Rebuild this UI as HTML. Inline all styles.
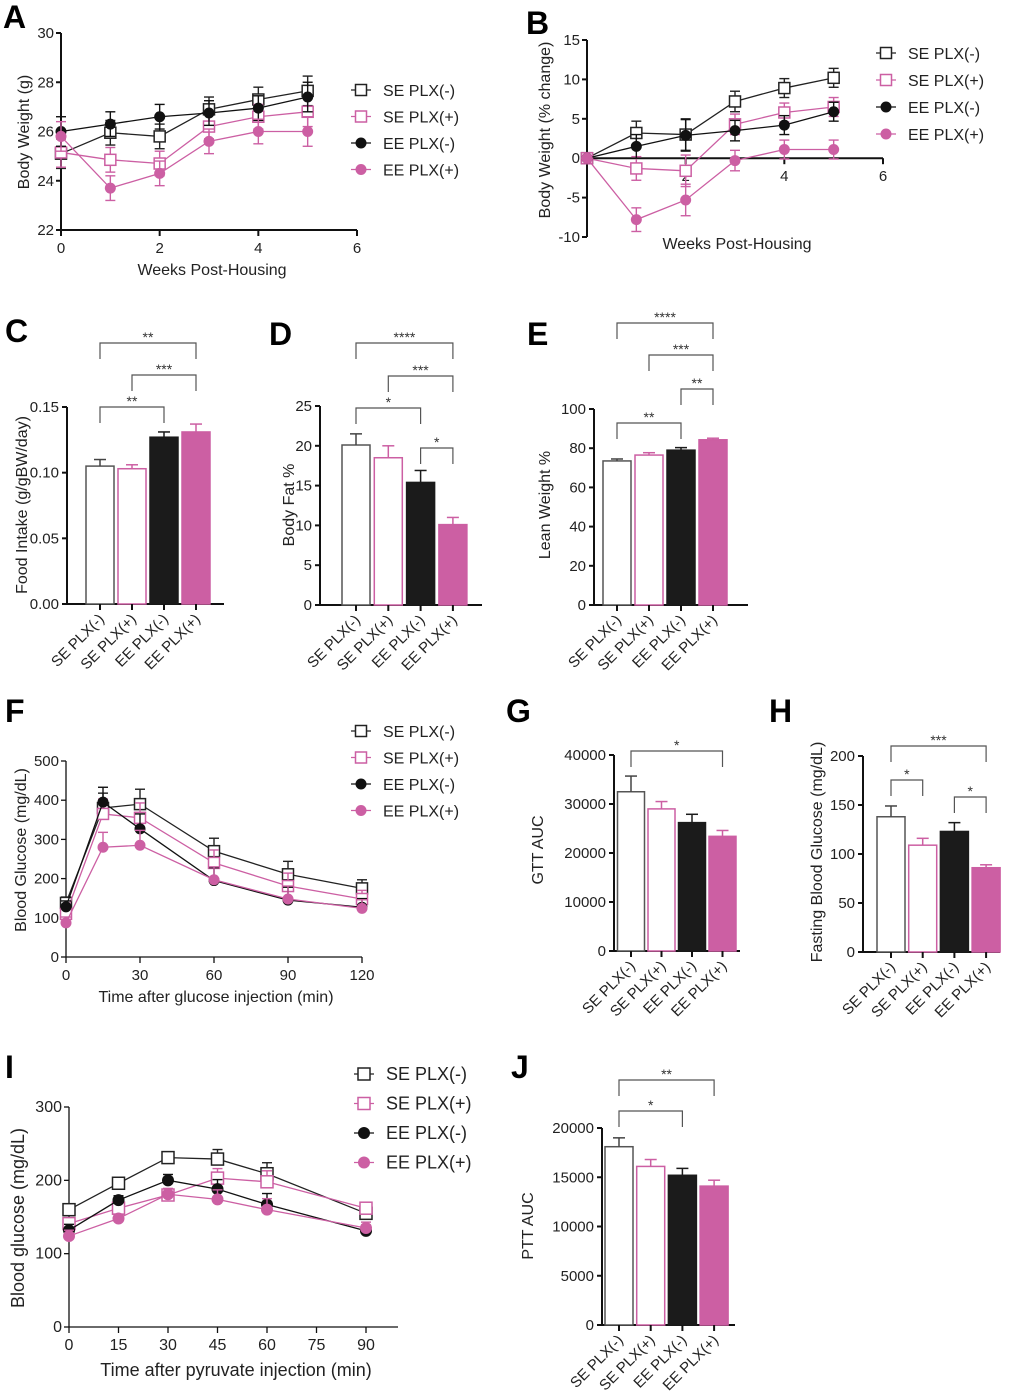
<!DOCTYPE html>
<html><head><meta charset="utf-8"><style>
html,body{margin:0;padding:0;background:#fff}
svg{display:block;font-family:"Liberation Sans",Arial,sans-serif}
</style></head><body>
<svg id="fig" width="1020" height="1397" viewBox="0 0 1020 1397" xmlns="http://www.w3.org/2000/svg"></svg>
<script>
// ---------- DATA ----------
const seriesNames = ["SE PLX(-)","SE PLX(+)","EE PLX(-)","EE PLX(+)"];
// Panel A
const aWeeks = [0,1,2,3,4,5];
const aSEm = [25.1,25.95,25.8,26.9,27.3,27.65];
const aSEp = [25.15,24.85,24.7,26.2,26.6,26.8];
const aEEm = [26.0,26.3,26.6,26.75,26.95,27.4];
const aEEp = [25.8,23.7,24.3,25.6,26.0,26.0];
const aErr = [0.6,0.5,0.5,0.5,0.5,0.6];
// Panel B
const bSEm = [0,3.2,3.0,7.2,8.9,10.2];
const bSEp = [0,-1.3,-1.6,4.3,5.8,6.5];
const bEEm = [0,1.5,2.9,3.5,4.2,5.9];
const bEEp = [0,-7.8,-5.3,-0.3,1.1,1.1];
const bErr = [0,1.5,2.0,1.3,1.2,1.2];
// Panel F
const fTimes = [0,15,30,60,90,120];
const fSEm = [138,380,390,270,211,175];
const fSEp = [110,365,355,240,181,148];
const fEEm = [128,395,327,195,145,127];
const fEEp = [87,280,285,197,148,124];
const fErr = [15,38,38,33,33,22];
// Panel I
const iTimes = [0,15,30,45,60,90];
const iSEm = [160,196,231,229,209,155];
const iSEp = [141,162,180,203,198,162];
const iEEm = [132,173,200,188,167,131];
const iEEp = [124,148,181,174,160,135];
const iErr = [8,6,8,13,15,8];
// Bar panels
const cVals = [0.105,0.103,0.127,0.131];
const cErr = [0.005,0.003,0.004,0.006];
const dVals = [20.1,18.5,15.4,10.1];
const dErr = [1.4,1.5,1.5,0.9];
const eVals = [73.5,76.5,79.0,84.3];
const eErr = [1.0,1.2,1.3,0.8];
const gVals = [32500,29000,26200,23400];
const gErr = [3200,1500,1700,1200];
const hVals = [138,109,123,86];
const hErr = [11,7,9,3];
const jVals = [18100,16100,15200,14100];
const jErr = [900,700,700,600];

// ---------- HELPERS ----------
const NS="http://www.w3.org/2000/svg";
const svg=document.getElementById('fig');
const PINK="#cc5fa3";
const colors=["#222",PINK,"#111",PINK];
function mk(tag,attrs,parent){const e=document.createElementNS(NS,tag);for(const k in attrs)e.setAttribute(k,attrs[k]);(parent||svg).appendChild(e);return e;}
function txt(s,x,y,size,anchor,parent,extra){const t=mk('text',Object.assign({x:x,y:y,'font-size':size,'text-anchor':anchor||'start',fill:'#222'},extra||{}),parent);t.textContent=s;return t;}
function group(name){const g=mk('g',{});return g;}
function marker(g,i,x,y,r){
  if(i<2){const m=mk('rect',{x:x-r,y:y-r,width:2*r,height:2*r,fill:'#fff',stroke:colors[i],'stroke-width':1.5},g);}
  else{const m=mk('circle',{cx:x,cy:y,r:r,fill:colors[i]},g);}
}
function panelLetter(l,x,y){const t=txt(l,x,y,32,'start',svg,{'font-weight':'bold',fill:'#000'});}

function lineChart(c){
  const g=group(c.name);
  const X=v=>c.px0+(v-c.xmin)/(c.xmax-c.xmin)*(c.px1-c.px0);
  const Y=v=>c.py0-(v-c.ymin)/(c.ymax-c.ymin)*(c.py0-c.py1);
  const xAxisY=c.xAxisAt!==undefined?Y(c.xAxisAt):c.py0;
  const sw=c.axisW||2;
  const ya=mk('line',{x1:X(c.xmin),y1:c.py0,x2:X(c.xmin),y2:c.py1,stroke:'#111','stroke-width':sw},g);
  
  c.yticks.forEach(v=>{mk('line',{x1:X(c.xmin)-5,y1:Y(v),x2:X(c.xmin),y2:Y(v),stroke:'#111','stroke-width':sw},g);
    const t=txt(String(v),X(c.xmin)-7,Y(v)+5,c.fs,'end',g);});
  const xa=mk('line',{x1:X(c.xmin),y1:xAxisY,x2:c.axisEnd||c.px1,y2:xAxisY,stroke:'#111','stroke-width':sw},g);
  
  c.xticks.forEach((v,k)=>{mk('line',{x1:X(v),y1:xAxisY,x2:X(v),y2:xAxisY+6,stroke:'#111','stroke-width':sw},g);
    const lab=c.xtickLabels?c.xtickLabels[k]:String(v);
    if(lab!==''){const t=txt(lab,X(v),xAxisY+23,c.fs,'middle',g);}});
  const xt=txt(c.xtitle,c.xtitleX,c.xtitleY,c.tfs,'middle',g);
  const yt=txt(c.ytitle,0,0,c.tfs,'middle',g,{transform:`translate(${c.ytitleX},${c.ytitleY}) rotate(-90)`});
  c.series.forEach((s,i)=>{
    const sg=mk('g',{},g);
    s.forEach((v,k)=>{const e=c.err[k];if(!e)return;const x=X(c.x[k]);
      const lo=c.both?Y(v-e):Y(v);
      mk('line',{x1:x,y1:lo,x2:x,y2:Y(v+e),stroke:colors[i],'stroke-width':1.4},sg);
      mk('line',{x1:x-5,y1:Y(v+e),x2:x+5,y2:Y(v+e),stroke:colors[i],'stroke-width':1.4},sg);
      if(c.both)mk('line',{x1:x-5,y1:Y(v-e),x2:x+5,y2:Y(v-e),stroke:colors[i],'stroke-width':1.4},sg);});
    const pts=s.map((v,k)=>X(c.x[k])+','+Y(v)).join(' ');
    mk('polyline',{points:pts,fill:'none',stroke:colors[i],'stroke-width':1.3},sg);
    s.forEach((v,k)=>marker(sg,i,X(c.x[k]),Y(v),c.mr));
  });
  seriesNames.forEach((n,i)=>{const lg=mk('g',{},g);
    const y=c.legY+i*c.legDy;
    mk('line',{x1:c.legX-10,y1:y,x2:c.legX+10,y2:y,stroke:colors[i],'stroke-width':1.3},lg);
    marker(lg,i,c.legX,y,c.mr);
    txt(n,c.legX+22,y+6,c.lfs,'start',lg);});
}

function barChart(c){
  const g=group(c.name);
  const Y=v=>c.py0-(v-0)/c.ymax*(c.py0-c.py1);
  const sw=2;
  const ya=mk('line',{x1:c.ax,y1:c.py0+1,x2:c.ax,y2:c.py1,stroke:'#111','stroke-width':sw},g);
  
  c.yticks.forEach((v,k)=>{mk('line',{x1:c.ax-5,y1:Y(v),x2:c.ax,y2:Y(v),stroke:'#111','stroke-width':sw},g);
    const t=txt(c.ytickLabels[k],c.ax-8,Y(v)+5,15,'end',g);});
  const xa=mk('line',{x1:c.ax,y1:c.py0,x2:c.axEnd,y2:c.py0,stroke:'#111','stroke-width':sw},g);
  
  const fills=['#fff','#fff','#1b1b1b',PINK];
  const strokes=['#555',PINK,'#1b1b1b',PINK];
  c.vals.forEach((v,i)=>{const cx=c.x0+i*c.dx;const w=c.bw;
    const b=mk('rect',{x:cx-w/2,y:Y(v),width:w,height:c.py0-Y(v),fill:fills[i],stroke:strokes[i],'stroke-width':1.5},g);
    
    const e=c.err[i];
    mk('line',{x1:cx,y1:Y(v),x2:cx,y2:Y(v+e),stroke:strokes[i]==='#555'?'#444':strokes[i],'stroke-width':1.5},g);
    mk('line',{x1:cx-6,y1:Y(v+e),x2:cx+6,y2:Y(v+e),stroke:strokes[i]==='#555'?'#444':strokes[i],'stroke-width':1.5},g);
    mk('line',{x1:cx,y1:c.py0,x2:cx,y2:c.py0+6,stroke:'#111','stroke-width':sw},g);
    const t=txt(seriesNames[i],0,0,15,'end',g,{transform:`translate(${cx+5},${c.py0+16}) rotate(-45)`});
    
  });
  const yt=txt(c.ytitle,0,0,16,'middle',g,{transform:`translate(${c.ytitleX},${c.ytitleY}) rotate(-90)`});
  
  c.brackets.forEach(b=>{const bg=mk('g',{},g);
    const x1=c.x0+b[0]*c.dx,x2=c.x0+b[1]*c.dx;
    mk('polyline',{points:`${x1},${b[2]+16} ${x1},${b[2]} ${x2},${b[2]} ${x2},${b[2]+16}`,fill:'none',stroke:'#555','stroke-width':1.2},bg);
    txt(b[3],(x1+x2)/2,b[2]-1,14,'middle',bg,{fill:'#333'});});
}

// ---------- PANELS ----------
panelLetter('A',3,28);
lineChart({name:'panel-a-body-weight',px0:61,px1:357,xmin:0,xmax:6,py0:230,py1:33,ymin:22,ymax:30,
  xticks:[0,2,4,6],yticks:[22,24,26,28,30],fs:15,tfs:16,x:aWeeks,series:[aSEm,aSEp,aEEm,aEEp],err:aErr,both:true,mr:5.5,
  xtitle:'Weeks Post-Housing',xtitleX:212,xtitleY:275,ytitle:'Body Weight (g)',ytitleX:29,ytitleY:132,legX:361,legY:90,legDy:26.5,lfs:16});
panelLetter('B',526,34);
lineChart({name:'panel-b-body-weight-change',px0:587,px1:883,xmin:0,xmax:6,py0:237,py1:40,ymin:-10,ymax:15,xAxisAt:0,
  xticks:[0,2,4,6],xtickLabels:['','2','4','6'],yticks:[-10,-5,0,5,10,15],fs:15,tfs:16,x:aWeeks,series:[bSEm,bSEp,bEEm,bEEp],err:bErr,both:true,mr:5.5,
  xtitle:'Weeks Post-Housing',xtitleX:737,xtitleY:249,ytitle:'Body Weight (% change)',ytitleX:550,ytitleY:130,legX:886,legY:53,legDy:27,lfs:16});

panelLetter('C',5,342);
barChart({name:'panel-c-food-intake',ax:67,axEnd:224,py0:604,py1:407,ymax:0.15,yticks:[0,0.05,0.10,0.15],ytickLabels:['0.00','0.05','0.10','0.15'],
  x0:100,dx:32,bw:28,vals:cVals,err:cErr,ytitle:'Food Intake (g/gBW/day)',ytitleX:27,ytitleY:505,
  brackets:[[0,3,343,'**'],[1,3,375,'***'],[0,2,407,'**']]});
panelLetter('D',269,345);
barChart({name:'panel-d-body-fat',ax:320,axEnd:482,py0:605,py1:406,ymax:25,yticks:[0,5,10,15,20,25],ytickLabels:['0','5','10','15','20','25'],
  x0:356,dx:32.3,bw:28,vals:dVals,err:dErr,ytitle:'Body Fat %',ytitleX:294,ytitleY:505,
  brackets:[[0,3,343,'****'],[1,3,376,'***'],[0,2,408,'*'],[2,3,448,'*']]});
panelLetter('E',527,345);
barChart({name:'panel-e-lean-weight',ax:594,axEnd:748,py0:605,py1:409,ymax:100,yticks:[0,20,40,60,80,100],ytickLabels:['0','20','40','60','80','100'],
  x0:617,dx:32,bw:28,vals:eVals,err:eErr,ytitle:'Lean Weight %',ytitleX:550,ytitleY:505,
  brackets:[[0,3,323,'****'],[1,3,355,'***'],[2,3,389,'**'],[0,2,423,'**']]});

panelLetter('F',5,722);
lineChart({name:'panel-f-gtt',px0:66,px1:362,xmin:0,xmax:120,py0:957,py1:761,ymin:0,ymax:500,
  xticks:[0,30,60,90,120],yticks:[0,100,200,300,400,500],fs:15,tfs:16,x:fTimes,series:[fSEm,fSEp,fEEm,fEEp],err:fErr,both:false,mr:5.5,axisW:1.3,
  xtitle:'Time after glucose injection  (min)',xtitleX:216,xtitleY:1002,ytitle:'Blood Glucose (mg/dL)',ytitleX:26,ytitleY:850,legX:361,legY:731,legDy:26.5,lfs:16});
panelLetter('G',506,722);
barChart({name:'panel-g-gtt-auc',ax:614,axEnd:740,py0:951,py1:755,ymax:40000,yticks:[0,10000,20000,30000,40000],ytickLabels:['0','10000','20000','30000','40000'],
  x0:631,dx:30.5,bw:27,vals:gVals,err:gErr,ytitle:'GTT AUC',ytitleX:543,ytitleY:850,brackets:[[0,3,751,'*']]});
panelLetter('H',769,722);
barChart({name:'panel-h-fasting-glucose',ax:863,axEnd:1000,py0:952,py1:756,ymax:200,yticks:[0,50,100,150,200],ytickLabels:['0','50','100','150','200'],
  x0:891,dx:31.7,bw:28,vals:hVals,err:hErr,ytitle:'Fasting Blood Glucose (mg/dL)',ytitleX:822,ytitleY:852,
  brackets:[[0,3,746,'***'],[0,1,780,'*'],[2,3,797,'*']]});

panelLetter('I',5,1078);
lineChart({name:'panel-i-ptt',px0:69,px1:366,xmin:0,xmax:90,py0:1327,py1:1107,ymin:0,ymax:300,axisEnd:398,
  xticks:[0,15,30,45,60,75,90],yticks:[0,100,200,300],fs:16,tfs:18,x:iTimes,series:[iSEm,iSEp,iEEm,iEEp],err:iErr,both:false,mr:6,axisW:1.3,
  xtitle:'Time after pyruvate injection (min)',xtitleX:236,xtitleY:1376,ytitle:'Blood glucose (mg/dL)',ytitleX:24,ytitleY:1218,legX:364,legY:1074,legDy:29.5,lfs:18});
panelLetter('J',511,1078);
barChart({name:'panel-j-ptt-auc',ax:602,axEnd:735,py0:1325,py1:1128,ymax:20000,yticks:[0,5000,10000,15000,20000],ytickLabels:['0','5000','10000','15000','20000'],
  x0:619,dx:31.7,bw:28,vals:jVals,err:jErr,ytitle:'PTT AUC',ytitleX:533,ytitleY:1226,
  brackets:[[0,3,1080,'**'],[0,2,1111,'*']]});
</script>
</body></html>
